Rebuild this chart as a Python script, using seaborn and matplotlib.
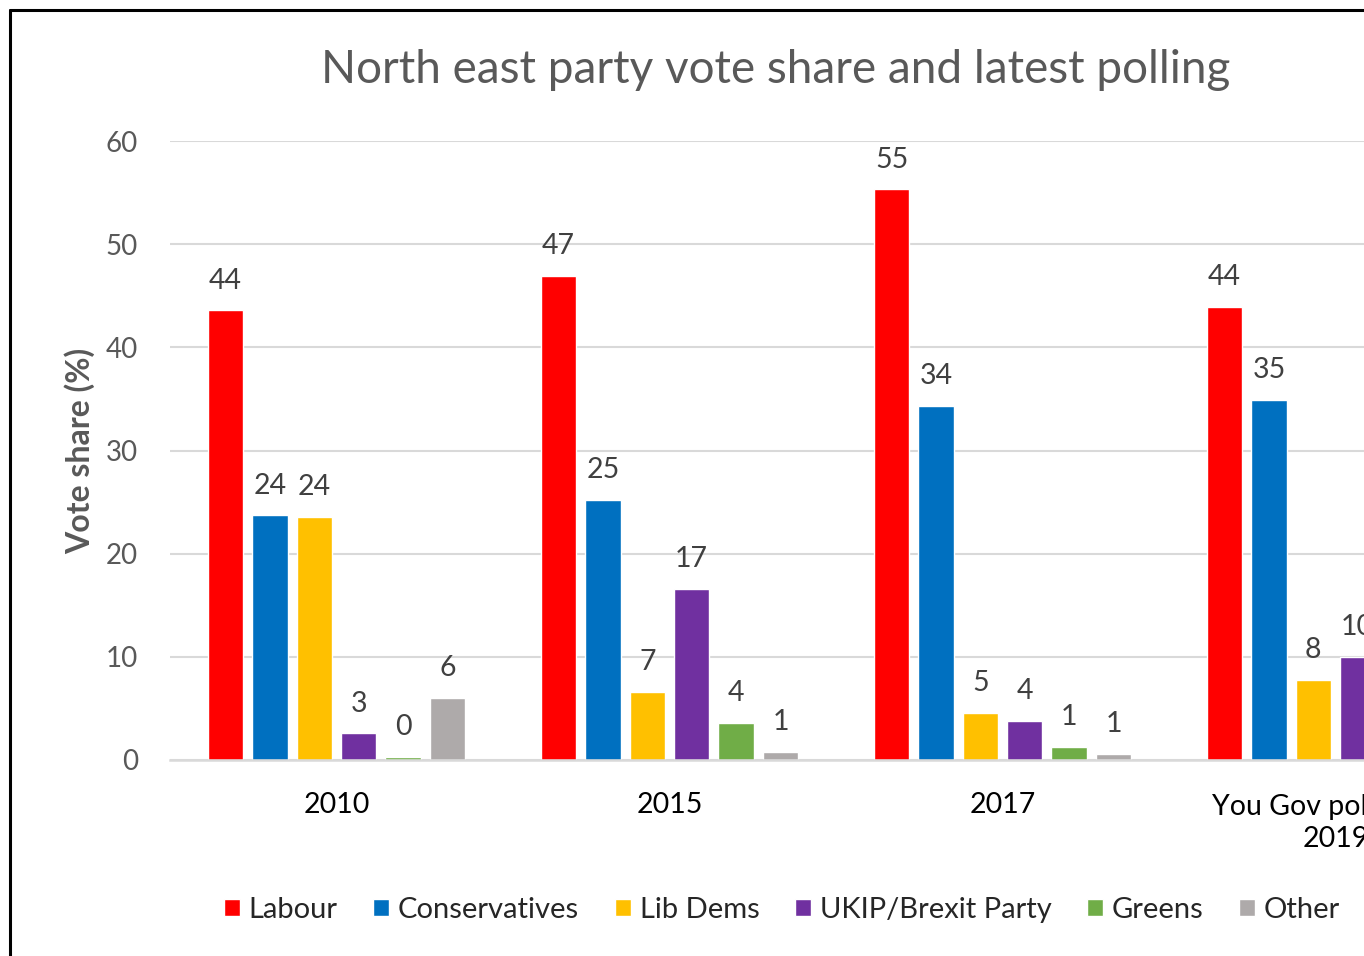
import matplotlib
matplotlib.use("Agg")
import matplotlib.pyplot as plt
from matplotlib.lines import Line2D
import seaborn as sns
import pandas as pd

# ---- data ----
periods = ["2010", "2015", "2017", "You Gov poll (MRP)\n2019"]
parties = ["Labour", "Conservatives", "Lib Dems", "UKIP/Brexit Party", "Greens", "Other"]
labour = [43.6, 46.9, 55.3, 43.9]
conservatives = [23.7, 25.2, 34.3, 34.9]
lib_dems = [23.55, 6.6, 4.6, 7.8]
ukip_brexit = [2.6, 16.6, 3.8, 10.0]
greens = [0.3, 3.6, 1.3, 2.0]
other = [6.0, 0.8, 0.6, 1.0]
colors = ["#FF0000", "#0070C0", "#FFC000", "#7030A0", "#70AD47", "#AEAAAA"]

series = [labour, conservatives, lib_dems, ukip_brexit, greens, other]
rows = []
for party, vals in zip(parties, series):
    for p, v in zip(periods, vals):
        rows.append({"period": p, "party": party, "share": v})
df = pd.DataFrame(rows)

sns.set_style("white")
plt.rcParams["font.family"] = ["Lato", "DejaVu Sans"]

W, H = 1364, 956
fig = plt.figure(figsize=(W / 100, H / 100), dpi=100)
left, right, top, bottom = 170, 1502, 141, 760
ax = fig.add_axes([left / W, 1 - bottom / H, (right - left) / W, (bottom - top) / H])

sns.barplot(data=df, x="period", y="share", hue="party", hue_order=parties,
            order=periods, palette=colors, width=0.8, gap=0.2, ax=ax,
            saturation=1, errorbar=None)

ax.set_ylim(0, 60)
ax.set_xlim(-0.5, 3.5)
ax.set_yticks(range(0, 61, 10))
ax.yaxis.grid(True, color="#D9D9D9", linewidth=1.5)
ax.set_axisbelow(True)
for s in ["top", "right", "left"]:
    ax.spines[s].set_visible(False)
ax.spines["bottom"].set_color("#D9D9D9")
ax.spines["bottom"].set_linewidth(1.8)
ax.tick_params(axis="both", length=0)
ax.tick_params(axis="y", labelsize=20, labelcolor="#595959", pad=23)
ax.tick_params(axis="x", labelsize=20.5, labelcolor="#000000", pad=23)
for t in ax.get_xticklabels():
    t.set_linespacing(1.3)
ax.set_xlabel("")
ax.set_ylabel("Vote share (%)", fontsize=23, fontweight="bold", color="#595959", labelpad=8)

for cont in ax.containers:
    labels = [f"{round(b.get_height())}" for b in cont]
    ax.bar_label(cont, labels=labels, padding=12, fontsize=20.5, color="#404040", clip_on=False)

handles, labs = ax.get_legend_handles_labels()
if ax.get_legend() is not None:
    ax.get_legend().remove()
fig.legend(handles, labs, loc="center", bbox_to_anchor=(782 / W, 1 - 910 / H), ncol=6,
           frameon=False, fontsize=21, handlelength=0.55, handleheight=0.55,
           handletextpad=0.3, columnspacing=1.22)

fig.text(776 / W, 1 - 70 / H, "North east party vote share and latest polling",
         ha="center", va="center", fontsize=33, color="#595959")

# chart border (cropped screenshot: only left and top edges visible)
fig.add_artist(Line2D([10 / W, 10 / W], [0, 1 - 10 / H], color="black", linewidth=2.2,
                      transform=fig.transFigure))
fig.add_artist(Line2D([10 / W, 1], [1 - 10 / H, 1 - 10 / H], color="black", linewidth=2.2,
                      transform=fig.transFigure))

fig.savefig("out.png", dpi=100, facecolor="white")
